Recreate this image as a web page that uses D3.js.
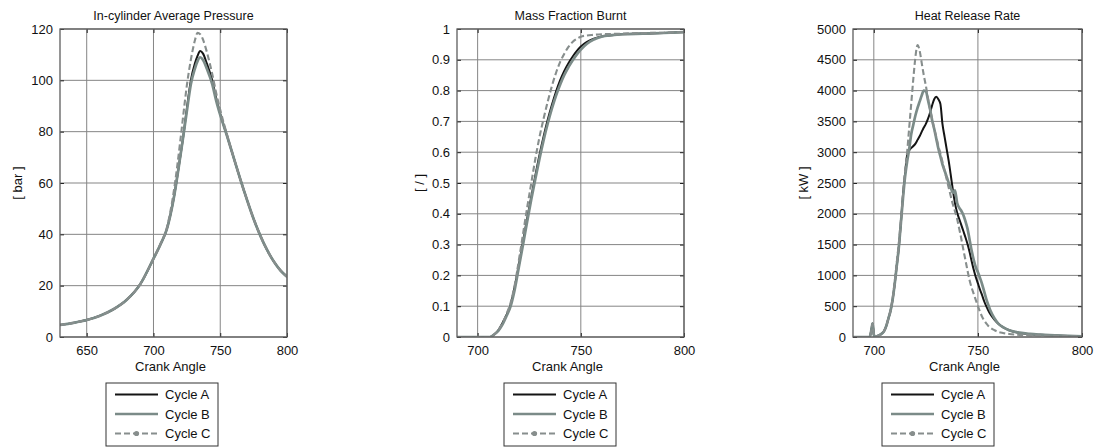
<!DOCTYPE html>
<html>
<head>
<meta charset="utf-8">
<script src="https://cdn.jsdelivr.net/npm/d3@7"></script>
<style>
  html, body { margin: 0; padding: 0; background: #fff; }
  svg text { font-family: "Liberation Sans", Arial, sans-serif; fill: #111; }
</style>
</head>
<body>
<svg id="chart" width="1094" height="448"></svg>
<script>
// ---- In-cylinder average pressure [bar] vs crank angle ----
const pressureAngle = [630, 640, 650, 660, 670, 680, 690, 700, 705, 710, 715, 720, 722, 725, 728, 731, 733, 735, 737, 740, 744, 747, 750, 755, 760, 765, 770, 775, 780, 785, 790, 795, 800];
const pressureA = [4.7, 5.5, 6.6, 8.3, 10.8, 14.5, 20.5, 30.5, 35.8, 42, 53.5, 70, 77, 89, 100, 106.5, 109.5, 111.4, 110.5, 106.5, 100, 93, 87, 78.5, 70, 61.5, 53.5, 46, 39.5, 34, 29.5, 26, 23.5];
const pressureB = [4.7, 5.5, 6.6, 8.3, 10.8, 14.5, 20.5, 30.5, 35.8, 42, 53.5, 70, 77, 88, 98.5, 104.5, 107.5, 109, 108, 104.5, 98.5, 92, 86.5, 78.5, 70, 61.5, 53.5, 46, 39.5, 34, 29.5, 26, 23.5];
const pressureC = [4.7, 5.5, 6.6, 8.3, 10.8, 14.5, 20.5, 30.5, 36, 42.5, 56, 76, 85, 98, 108, 115.5, 118.5, 118, 116, 111, 102.5, 95, 88.5, 79, 70, 61.5, 53.5, 46, 39.5, 34, 29.5, 26, 23.5];

// ---- Mass fraction burnt [-] vs crank angle ----
const mfbAngle = [690, 700, 706, 708, 710, 712, 714, 716, 718, 720, 722, 724, 726, 728, 730, 732, 734, 736, 738, 740, 742, 744, 746, 748, 750, 753, 756, 760, 765, 770, 780, 790, 800];
const mfbA = [0, 0, 0, 0.008, 0.022, 0.045, 0.072, 0.105, 0.165, 0.235, 0.31, 0.385, 0.455, 0.525, 0.592, 0.652, 0.706, 0.754, 0.797, 0.834, 0.864, 0.889, 0.91, 0.928, 0.943, 0.958, 0.968, 0.976, 0.98, 0.983, 0.985, 0.987, 0.99];
const mfbB = [0, 0, 0, 0.008, 0.02, 0.04, 0.068, 0.1, 0.155, 0.228, 0.3, 0.375, 0.447, 0.515, 0.58, 0.64, 0.694, 0.742, 0.784, 0.82, 0.851, 0.876, 0.898, 0.917, 0.933, 0.952, 0.965, 0.975, 0.98, 0.983, 0.985, 0.987, 0.99];
const mfbC = [0, 0, 0, 0.008, 0.022, 0.045, 0.075, 0.112, 0.17, 0.25, 0.335, 0.42, 0.5, 0.58, 0.65, 0.71, 0.765, 0.815, 0.858, 0.893, 0.92, 0.942, 0.958, 0.968, 0.975, 0.979, 0.981, 0.983, 0.984, 0.985, 0.987, 0.988, 0.99];

// ---- Heat release rate [kW] vs crank angle ----
const hrrAngle = [690, 698, 699, 699.4, 700, 700.5, 702, 704,
  705, 706, 707, 708, 709, 710, 711, 712, 713, 714, 715, 716, 717, 718, 719, 720,
  721, 722, 723, 724, 725, 726, 727, 728, 729, 730, 731, 732, 733, 734, 735, 736,
  737, 738, 739, 740, 741, 742, 743, 744, 745, 746, 747, 748, 749, 750, 751, 752,
  753, 754, 755, 756,
  758, 760, 762, 765, 770, 775, 780, 790, 800];
const hrrA = [0, 0, 150, 220, 40, 0, 20, 60,
  100, 180, 300, 420, 600, 850, 1150, 1450, 1850, 2300, 2650, 2950, 3030, 3070, 3100, 3140,
  3200, 3260, 3330, 3400, 3460, 3540, 3640, 3760, 3860, 3900, 3860, 3780, 3450, 3250, 3050, 2850,
  2620, 2380, 2170, 2020, 1920, 1820, 1720, 1620, 1510, 1380, 1230, 1090, 970, 870, 770, 680,
  580, 500, 430, 370,
  280, 210, 160, 110, 65, 45, 35, 20, 10];
const hrrB = [0, 0, 150, 220, 40, 0, 20, 60,
  100, 180, 300, 420, 600, 850, 1150, 1450, 1850, 2250, 2600, 2850, 3050, 3300, 3450, 3600,
  3720, 3820, 3920, 4000, 3990, 3850, 3700, 3520, 3380, 3220, 3060, 2930, 2800, 2700, 2600, 2500,
  2420, 2340, 2380, 2180, 2100, 2050, 1980, 1880, 1760, 1580, 1400, 1250, 1130, 1050, 960, 860,
  740, 620, 520, 430,
  300, 210, 160, 110, 70, 50, 38, 22, 12];
const hrrC = [0, 0, 150, 220, 40, 0, 20, 60,
  100, 180, 300, 430, 620, 880, 1200, 1520, 1900, 2300, 2680, 3000, 3400, 3800, 4200, 4550,
  4740, 4650, 4450, 4250, 4080, 3880, 3700, 3540, 3380, 3250, 3100, 2980, 2840, 2700, 2560, 2420,
  2280, 2150, 2040, 1920, 1760, 1600, 1420, 1250, 1080, 920, 800, 700, 600, 500, 410, 330,
  270, 220, 180, 150,
  110, 80, 65, 50, 35, 30, 25, 15, 8];

// ---- Tick values and labels ----
const pressureXTicks = [650, 700, 750, 800];
const pressureYTicks = [0, 20, 40, 60, 80, 100, 120];
const mfbXTicks = [700, 750, 800];
const mfbYTicks = [0, 0.1, 0.2, 0.3, 0.4, 0.5, 0.6, 0.7, 0.8, 0.9, 1];
const hrrXTicks = [700, 750, 800];
const hrrYTicks = [0, 500, 1000, 1500, 2000, 2500, 3000, 3500, 4000, 4500, 5000];

const seriesNames = ["Cycle A", "Cycle B", "Cycle C"];
const titles = ["In-cylinder Average Pressure", "Mass Fraction Burnt", "Heat Release Rate"];
const yLabels = ["[ bar ]", "[ / ]", "[ kW ]"];
const xLabel = "Crank Angle";

// ---- Styling ----
const seriesStyle = [
  { color: "#141414", width: 2.0, dash: null },
  { color: "#7b8b88", width: 2.7, dash: null },
  { color: "#878e8d", width: 2.1, dash: "6,3" }
];
const gridColor = "#858585";
const frameColor = "#5e5e5e";
const plotTop = 29, plotBottom = 337;

const panels = [
  { left: 60, right: 287, xDomain: [630, 800], yDomain: [0, 120],
    xTicks: pressureXTicks, yTicks: pressureYTicks, yFmt: d => String(d),
    angle: pressureAngle, series: [pressureA, pressureB, pressureC],
    yLabelX: 17, legendLeft: 106 },
  { left: 457, right: 684, xDomain: [690, 800], yDomain: [0, 1],
    xTicks: mfbXTicks, yTicks: mfbYTicks, yFmt: d => (d === 0 || d === 1) ? String(d) : d3.format(".1f")(d),
    angle: mfbAngle, series: [mfbA, mfbB, mfbC],
    yLabelX: 419, legendLeft: 504 },
  { left: 853, right: 1082, xDomain: [690, 800], yDomain: [0, 5000],
    xTicks: hrrXTicks, yTicks: hrrYTicks, yFmt: d => String(d),
    angle: hrrAngle, series: [hrrA, hrrB, hrrC],
    yLabelX: 803, legendLeft: 882 }
];

const svg = d3.select("#chart");

panels.forEach((p, i) => {
  const x = d3.scaleLinear().domain(p.xDomain).range([p.left, p.right]);
  const y = d3.scaleLinear().domain(p.yDomain).range([plotBottom, plotTop]);
  const g = svg.append("g");

  // grid
  g.append("g")
    .selectAll("line").data(p.xTicks).join("line")
    .attr("x1", d => x(d)).attr("x2", d => x(d))
    .attr("y1", plotTop).attr("y2", plotBottom)
    .attr("stroke", gridColor).attr("stroke-width", 1);
  g.append("g")
    .selectAll("line").data(p.yTicks).join("line")
    .attr("x1", p.left).attr("x2", p.right)
    .attr("y1", d => y(d)).attr("y2", d => y(d))
    .attr("stroke", gridColor).attr("stroke-width", 1);

  // axes with inward ticks on all four sides
  const tl = 4;
  g.append("g").attr("transform", `translate(0,${plotBottom})`)
    .call(d3.axisBottom(x).tickValues(p.xTicks).tickSizeInner(-tl).tickSizeOuter(0).tickPadding(9))
    .call(a => a.select(".domain").remove())
    .call(a => a.selectAll("line").attr("stroke", "#222"))
    .call(a => a.selectAll("text").attr("font-size", 13).attr("fill", "#111"));
  g.append("g").attr("transform", `translate(0,${plotTop})`)
    .call(d3.axisTop(x).tickValues(p.xTicks).tickSizeInner(-tl).tickSizeOuter(0).tickFormat(""))
    .call(a => a.select(".domain").remove())
    .call(a => a.selectAll("line").attr("stroke", "#222"));
  g.append("g").attr("transform", `translate(${p.left},0)`)
    .call(d3.axisLeft(y).tickValues(p.yTicks).tickFormat(p.yFmt).tickSizeInner(-tl).tickSizeOuter(0).tickPadding(7))
    .call(a => a.select(".domain").remove())
    .call(a => a.selectAll("line").attr("stroke", "#222"))
    .call(a => a.selectAll("text").attr("font-size", 13).attr("fill", "#111"));
  g.append("g").attr("transform", `translate(${p.right},0)`)
    .call(d3.axisRight(y).tickValues(p.yTicks).tickSizeInner(-tl).tickSizeOuter(0).tickFormat(""))
    .call(a => a.select(".domain").remove())
    .call(a => a.selectAll("line").attr("stroke", "#222"));

  // curves
  const clipId = "clip" + i;
  svg.append("clipPath").attr("id", clipId).append("rect")
    .attr("x", p.left).attr("y", plotTop - 2).attr("width", p.right - p.left).attr("height", plotBottom - plotTop + 2);
  const line = d3.line()
    .x(d => x(d[0])).y(d => y(d[1]))
    .curve(d3.curveMonotoneX);
  p.series.forEach((vals, k) => {
    const pts = p.angle.map((a, j) => [a, vals[j]]);
    const st = seriesStyle[k];
    g.append("path")
      .attr("clip-path", `url(#${clipId})`)
      .attr("d", line(pts))
      .attr("fill", "none")
      .attr("stroke", st.color)
      .attr("stroke-width", st.width)
      .attr("stroke-linejoin", "round")
      .attr("stroke-dasharray", st.dash);
  });

  // frame
  g.append("rect")
    .attr("x", p.left).attr("y", plotTop)
    .attr("width", p.right - p.left).attr("height", plotBottom - plotTop)
    .attr("fill", "none").attr("stroke", frameColor).attr("stroke-width", 1.3);

  // title and axis labels
  const cx = (p.left + p.right) / 2;
  g.append("text").attr("x", cx).attr("y", 20)
    .attr("text-anchor", "middle").attr("font-size", 12.5).text(titles[i]);
  g.append("text").attr("x", cx - 3).attr("y", 371)
    .attr("text-anchor", "middle").attr("font-size", 13).text(xLabel);
  g.append("text")
    .attr("transform", `translate(${p.yLabelX},${(plotTop + plotBottom) / 2}) rotate(-90)`)
    .attr("text-anchor", "middle").attr("dominant-baseline", "central")
    .attr("font-size", 13).text(yLabels[i]);

  // legend
  const lx = p.legendLeft, ly = 383, lw = 112, lh = 63;
  const lg = g.append("g");
  lg.append("rect").attr("x", lx).attr("y", ly).attr("width", lw).attr("height", lh)
    .attr("fill", "#fff").attr("stroke", "#333").attr("stroke-width", 1);
  seriesNames.forEach((name, k) => {
    const ry = ly + 11.5 + k * 19.5;
    const st = seriesStyle[k];
    lg.append("line")
      .attr("x1", lx + 9).attr("x2", lx + 52).attr("y1", ry).attr("y2", ry)
      .attr("stroke", st.color).attr("stroke-width", st.width)
      .attr("stroke-dasharray", st.dash);
    if (k === 2) {
      lg.append("circle").attr("cx", lx + 30.5).attr("cy", ry).attr("r", 2.6).attr("fill", st.color);
    }
    lg.append("text").attr("x", lx + 59).attr("y", ry)
      .attr("dominant-baseline", "central").attr("font-size", 13).text(name);
  });
});
</script>
</body>
</html>
